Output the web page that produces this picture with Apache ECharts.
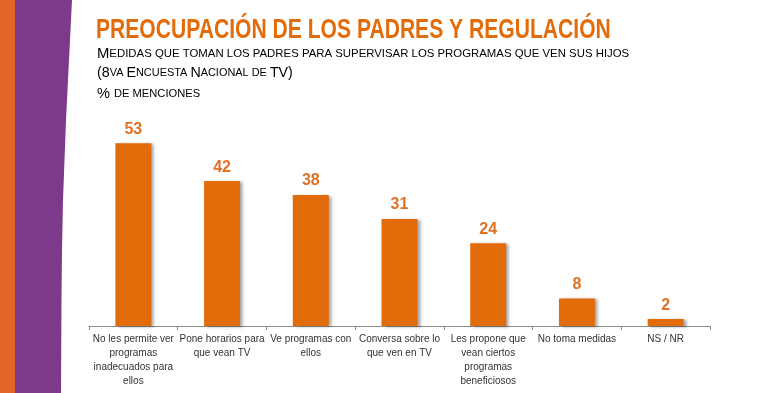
<!DOCTYPE html>
<html>
<head>
<meta charset="utf-8">
<script src="https://cdn.jsdelivr.net/npm/echarts@6/dist/echarts.min.js"></script>
<style>
html,body{margin:0;padding:0;background:#fff;}
#c{width:772px;height:393px;}
</style>
</head>
<body>
<div id="c"></div>
<script>
const categories = [
  "No les permite ver\nprogramas\ninadecuados para\nellos",
  "Pone horarios para\nque vean TV",
  "Ve programas con\nellos",
  "Conversa sobre lo\nque ven en TV",
  "Les propone que\nvean ciertos\nprogramas\nbeneficiosos",
  "No toma medidas",
  "NS / NR"
];
const values = [53, 42, 38, 31, 24, 8, 2];
const titleText = "PREOCUPACIÓN DE LOS PADRES Y REGULACIÓN";
const subLines = [
  '{b|M}{s|EDIDAS QUE TOMAN LOS PADRES PARA SUPERVISAR LOS PROGRAMAS QUE VEN SUS HIJOS}',
  '{b|(8}{s|VA }{b|E}{s|NCUESTA }{b|N}{s|ACIONAL DE }{b|TV)}',
  '{b|% }{s|DE MENCIONES}'
];

const FONT = "'Liberation Sans', Arial, sans-serif";
const ORANGE = "#E36C0A";
const chart = echarts.init(document.getElementById('c'), null, {renderer: 'canvas'});

const subStyles = {
  b: {fontSize: 15, color: '#4a4a4a', fontFamily: FONT, fontWeight: 'normal'},
  s: {fontSize: 11.5, color: '#4a4a4a', fontFamily: FONT, fontWeight: 'normal'}
};

// decorative purple band with slightly curved right edge
const edge = [[72,0],[70,40],[68,80],[66,120],[64.5,160],[63,200],[62,250],[61.5,300],[61,393]];
const purplePts = [[14,0]].concat(edge).concat([[14,393]]);

const subTop = [46, 65, 86];
const subScale = [0.99, 0.95, 0.97];

chart.setOption({
  animation: false,
  backgroundColor: '#fff',
  graphic: [
    {type: 'polygon', shape: {points: purplePts}, style: {fill: '#7D3A8B'}, z: 10},
    {type: 'rect', shape: {x: 0, y: 0, width: 15, height: 393}, style: {fill: '#E2662A'}, z: 11},
    {
      type: 'text', x: 96, y: 16, scaleX: 0.74, z: 12,
      style: {text: titleText, font: "bold 28.5px 'Liberation Sans', Arial, sans-serif", fill: '#E36C0A'}
    }
  ].concat(subLines.map((t, i) => ({
      type: 'text', x: 97, y: subTop[i], scaleX: subScale[i], z: 12,
      style: {text: t, rich: subStyles, textVerticalAlign: 'top', verticalAlign: 'top'}
  }))),
  grid: {left: 89, right: 62, top: 119, bottom: 67, containLabel: false},
  xAxis: {
    type: 'category',
    data: categories,
    axisLine: {lineStyle: {color: '#8c8c8c', width: 1}},
    axisTick: {show: true, length: 4, lineStyle: {color: '#8c8c8c'}},
    axisLabel: {
      interval: 0,
      fontFamily: FONT,
      fontSize: 10,
      lineHeight: 14,
      color: '#333',
      margin: 6
    }
  },
  yAxis: {
    type: 'value', min: 0, max: 60, show: false,
    splitLine: {show: false}
  },
  series: [{
    type: 'bar',
    data: values,
    barWidth: 36,
    itemStyle: {
      color: ORANGE,
      shadowColor: 'rgba(0,0,0,0.35)',
      shadowBlur: 3,
      shadowOffsetX: 3,
      shadowOffsetY: 1
    },
    label: {
      show: true,
      position: 'top',
      distance: 6,
      fontFamily: FONT,
      fontWeight: 'bold',
      fontSize: 16,
      color: '#E07126'
    }
  }]
});
</script>
</body>
</html>
